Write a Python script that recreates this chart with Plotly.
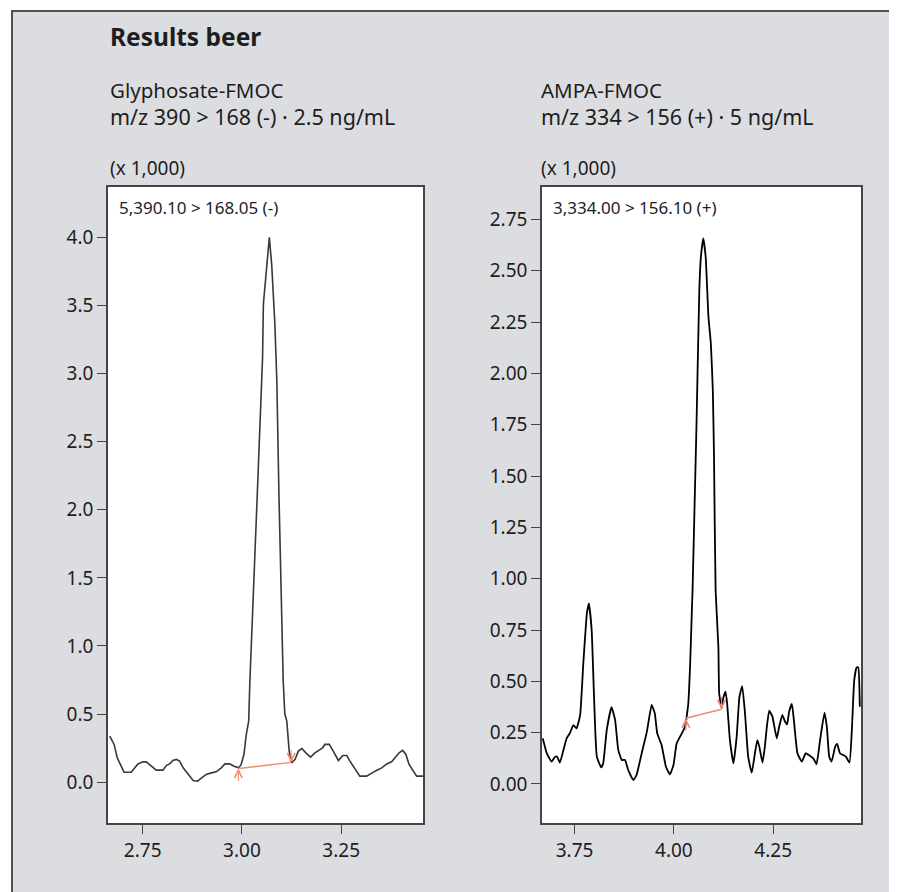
import plotly.graph_objects as go

# ---------------- data ----------------
glyph_time = [2.667, 2.678, 2.686, 2.695, 2.703, 2.721, 2.730, 2.738, 2.751, 2.759,
              2.772, 2.784, 2.801, 2.810, 2.818, 2.826, 2.835, 2.843, 2.852, 2.864,
              2.877, 2.888, 2.898, 2.910, 2.923, 2.935, 2.948, 2.957, 2.969, 2.980,
              2.992, 2.998, 3.005, 3.011, 3.017, 3.020, 3.039, 3.045, 3.052, 3.054,
              3.062, 3.069, 3.075, 3.083, 3.088, 3.093, 3.104, 3.108, 3.113, 3.119,
              3.125, 3.134, 3.142, 3.151, 3.161, 3.173, 3.184, 3.195, 3.203, 3.209,
              3.220, 3.230, 3.243, 3.254, 3.264, 3.272, 3.285, 3.297, 3.314, 3.327,
              3.339, 3.352, 3.365, 3.377, 3.388, 3.396, 3.405, 3.413, 3.421, 3.432,
              3.440, 3.456]
glyph_signal = [0.338, 0.277, 0.178, 0.117, 0.073, 0.073, 0.105, 0.134, 0.149, 0.149,
                0.117, 0.088, 0.088, 0.123, 0.134, 0.159, 0.167, 0.154, 0.105, 0.057,
                0.012, 0.007, 0.027, 0.057, 0.068, 0.076, 0.105, 0.134, 0.134, 0.117,
                0.105, 0.13, 0.203, 0.35, 0.448, 0.74, 2.14, 2.63, 3.12, 3.51,
                3.78, 4.0, 3.80, 3.36, 2.94, 2.14, 0.74, 0.50, 0.448, 0.228,
                0.142, 0.167, 0.228, 0.247, 0.215, 0.184, 0.215, 0.24, 0.252, 0.277,
                0.277, 0.228, 0.159, 0.196, 0.196, 0.154, 0.093, 0.044, 0.044, 0.068,
                0.086, 0.105, 0.134, 0.149, 0.184, 0.215, 0.233, 0.203, 0.13, 0.081,
                0.044, 0.044]

ampa_time = [3.670, 3.680, 3.692, 3.701, 3.706, 3.713, 3.722, 3.730, 3.738, 3.747,
             3.755, 3.764, 3.772, 3.781, 3.786, 3.793, 3.799, 3.806, 3.817, 3.822,
             3.831, 3.843, 3.852, 3.860, 3.869, 3.877, 3.885, 3.898, 3.906, 3.919,
             3.932, 3.944, 3.952, 3.958, 3.969, 3.980, 3.990, 3.999, 4.007, 4.020,
             4.028, 4.036, 4.041, 4.045, 4.047, 4.053, 4.057, 4.064, 4.068, 4.074,
             4.080, 4.087, 4.093, 4.098, 4.101, 4.105, 4.112, 4.114, 4.120, 4.124,
             4.130, 4.134, 4.141, 4.150, 4.158, 4.165, 4.172, 4.179, 4.187, 4.196,
             4.204, 4.210, 4.215, 4.223, 4.229, 4.234, 4.240, 4.248, 4.259, 4.265,
             4.273, 4.280, 4.285, 4.290, 4.297, 4.302, 4.311, 4.322, 4.332, 4.343,
             4.351, 4.359, 4.368, 4.379, 4.385, 4.391, 4.397, 4.406, 4.411, 4.418,
             4.426, 4.433, 4.442, 4.448, 4.454, 4.460, 4.464, 4.468]
ampa_signal = [0.222, 0.15, 0.109, 0.133, 0.133, 0.104, 0.166, 0.222, 0.247, 0.287,
               0.271, 0.336, 0.588, 0.831, 0.88, 0.75, 0.425, 0.133, 0.081, 0.10,
               0.263, 0.374, 0.312, 0.166, 0.117, 0.117, 0.068, 0.019, 0.044, 0.15,
               0.255, 0.385, 0.344, 0.247, 0.19, 0.084, 0.047, 0.093, 0.198, 0.247,
               0.279, 0.385, 0.588, 0.831, 0.945, 1.432, 1.757, 2.406, 2.568, 2.658,
               2.568, 2.276, 2.146, 1.919, 1.594, 0.945, 0.669, 0.442, 0.369, 0.417,
               0.45, 0.393, 0.214, 0.10, 0.23, 0.425, 0.477, 0.344, 0.133, 0.055,
               0.15, 0.214, 0.182, 0.104, 0.182, 0.279, 0.357, 0.328, 0.222, 0.279,
               0.336, 0.303, 0.29, 0.352, 0.39, 0.312, 0.15, 0.109, 0.15, 0.136,
               0.125, 0.096, 0.214, 0.347, 0.279, 0.133, 0.109, 0.182, 0.195, 0.15,
               0.141, 0.133, 0.104, 0.263, 0.507, 0.568, 0.568, 0.376]

# integration baselines (start, end)
glyph_base_x = [2.991, 3.124]
glyph_base_y = [0.10, 0.145]
ampa_base_x = [4.030, 4.120]
ampa_base_y = [0.32, 0.364]

glyph_yticks = [0.0, 0.5, 1.0, 1.5, 2.0, 2.5, 3.0, 3.5, 4.0]
ampa_yticks = [0.0, 0.25, 0.5, 0.75, 1.0, 1.25, 1.5, 1.75, 2.0, 2.25, 2.5, 2.75]
glyph_xticks = [2.75, 3.00, 3.25]
ampa_xticks = [3.75, 4.00, 4.25]

title = "Results beer"
glyph_name = "Glyphosate-FMOC"
glyph_mz = "m/z 390 > 168 (-) · 2.5 ng/mL"
ampa_name = "AMPA-FMOC"
ampa_mz = "m/z 334 > 156 (+) · 5 ng/mL"
scale_label = "(x 1,000)"
glyph_channel = "5,390.10 > 168.05 (-)"
ampa_channel = "3,334.00 > 156.10 (+)"

# ---------------- styling ----------------
# the page body has an 8 px default margin, so the figure starts at (8, 8)
OFF = 8
W, H = 897 - OFF, 892 - OFF
FONT = "Noto Sans"
TXT = "#1e1e1e"
FRAME = "#454545"
SALMON = "#f3896c"


def px_x(p):
    return (p - OFF) / W


def px_y(p):
    return 1 - (p - OFF) / H


fig = go.Figure()
fig.add_trace(go.Scatter(x=glyph_time, y=glyph_signal, mode="lines",
                         line=dict(color="#383838", width=1.6), xaxis="x", yaxis="y"))
fig.add_trace(go.Scatter(x=ampa_time, y=ampa_signal, mode="lines",
                         line=dict(color="#000000", width=1.8, shape="spline", smoothing=0.4),
                         xaxis="x2", yaxis="y2"))
fig.add_trace(go.Scatter(x=glyph_base_x, y=glyph_base_y, mode="lines",
                         line=dict(color=SALMON, width=1.4), xaxis="x", yaxis="y"))
fig.add_trace(go.Scatter(x=ampa_base_x, y=ampa_base_y, mode="lines",
                         line=dict(color=SALMON, width=1.4), xaxis="x2", yaxis="y2"))

ydom = [px_y(823), px_y(187)]


def axis_common():
    return dict(showline=True, mirror=True, linecolor=FRAME, linewidth=1.5,
                ticks="outside", ticklen=9, tickwidth=1.3, tickcolor=FRAME,
                showgrid=False, zeroline=False,
                tickfont=dict(family=FONT, size=19, color=TXT))


fig.update_layout(
    width=W, height=H, autosize=False,
    margin=dict(l=0, r=0, t=0, b=0),
    paper_bgcolor="#dcdde0", plot_bgcolor="#ffffff",
    showlegend=False,
    xaxis=dict(domain=[px_x(108), px_x(423)], range=[2.6626, 3.4561], anchor="y",
               tickvals=glyph_xticks, tickformat=".2f", **axis_common()),
    yaxis=dict(domain=ydom, range=[-0.30, 4.37], anchor="x",
               tickvals=glyph_yticks, tickformat=".1f", **axis_common()),
    xaxis2=dict(domain=[px_x(542), px_x(861)], range=[3.668, 4.471], anchor="y2",
                tickvals=ampa_xticks, tickformat=".2f", **axis_common()),
    yaxis2=dict(domain=ydom, range=[-0.19, 2.908], anchor="x2",
                tickvals=ampa_yticks, tickformat=".2f", **axis_common()),
)

shapes = [
    dict(type="rect", xref="paper", yref="paper", x0=0, x1=1, y0=px_y(10), y1=1,
         fillcolor="white", line=dict(width=0), layer="below"),
    dict(type="rect", xref="paper", yref="paper", x0=0, x1=px_x(11), y0=0, y1=1,
         fillcolor="white", line=dict(width=0), layer="below"),
    dict(type="line", xref="paper", yref="paper", x0=px_x(11), x1=1, y0=px_y(11), y1=px_y(11),
         line=dict(color="#505050", width=2)),
    dict(type="line", xref="paper", yref="paper", x0=px_x(12), x1=px_x(12), y0=0, y1=px_y(10),
         line=dict(color="#505050", width=2)),
]
fig.update_layout(shapes=shapes)

ann = []


def text(t, x, y, size, bold=False):
    ann.append(dict(text=("<b>%s</b>" % t) if bold else t, xref="paper", yref="paper",
                    x=px_x(x), y=px_y(y), xanchor="left", yanchor="middle", align="left",
                    showarrow=False, font=dict(family=FONT, size=size, color=TXT)))


def wide(t):
    return '<span style="font-size:21.5px">%s</span>' % t


text(title, 108, 36, 24.5, bold=True)
text(glyph_name + "<br>" + wide(glyph_mz), 108, 103, 20.5)
text(ampa_name + "<br>" + wide(ampa_mz), 539, 103, 20.5)
text(scale_label, 108, 168, 19)
text(scale_label, 539, 168, 19)
text(glyph_channel, 117, 208, 17)
text(ampa_channel, 551, 208, 17)

# baseline end markers (vertical chevron arrows)
for xs, ys, xr, yr in [(glyph_base_x, glyph_base_y, "x", "y"),
                       (ampa_base_x, ampa_base_y, "x2", "y2")]:
    ann.append(dict(x=xs[0], y=ys[0], xref=xr, yref=yr, ax=0, ay=14, text="",
                    showarrow=True, arrowhead=5, arrowsize=1.4, arrowwidth=1.1,
                    arrowcolor=SALMON))
    ann.append(dict(x=xs[1], y=ys[1], xref=xr, yref=yr, ax=0, ay=-14, text="",
                    showarrow=True, arrowhead=5, arrowsize=1.4, arrowwidth=1.1,
                    arrowcolor=SALMON))

fig.update_layout(annotations=ann)
fig.write_html("out.html")
